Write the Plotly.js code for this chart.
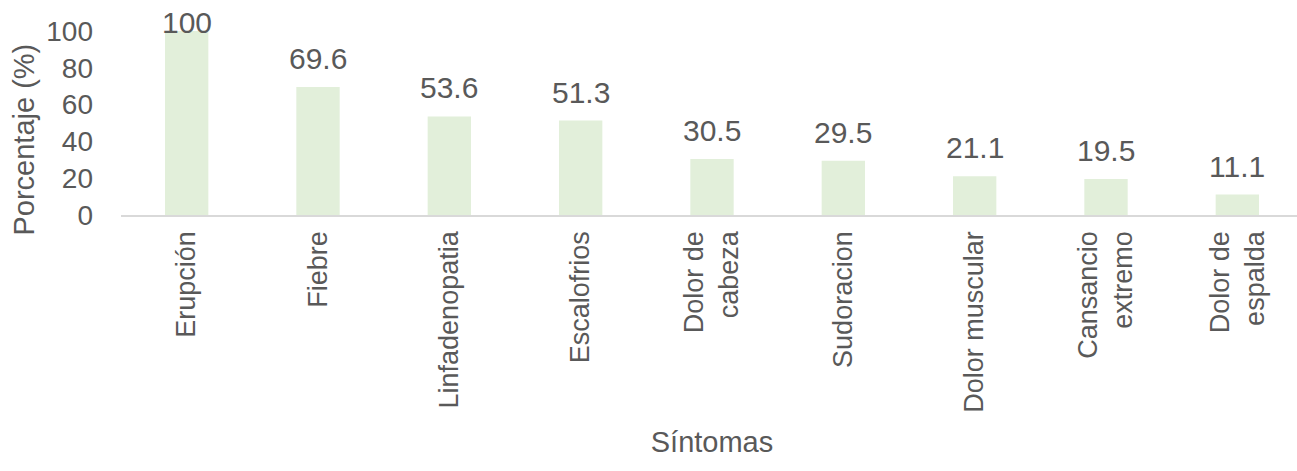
<!DOCTYPE html>
<html>
<head>
<meta charset="utf-8">
<script src="https://cdn.plot.ly/plotly-3.0.1.min.js"></script>
<style>
html,body{margin:0;padding:0;overflow:hidden;background:#fff;}
#chart{width:1303px;height:471px;}
</style>
</head>
<body>
<div id="chart"></div>
<script>
const categories = ["Erupción","Fiebre","Linfadenopatia","Escalofrios","Dolor de<br>cabeza","Sudoracion","Dolor muscular","Cansancio<br>extremo","Dolor de<br>espalda"];
const values = [100, 69.6, 53.6, 51.3, 30.5, 29.5, 21.1, 19.5, 11.1];
const valueLabels = ["100","69.6","53.6","51.3","30.5","29.5","21.1","19.5","11.1"];
const yTicks = [0,20,40,60,80,100];
const xTitle = 'Síntomas';
const yTitle = 'Porcentaje (%)';

const FONT = '"Liberation Sans", Arial, sans-serif';
const TXT = '#595959';

const trace = {
  type: 'bar',
  x: categories,
  y: values,
  marker: {color: '#E2EFDA'},
  hoverinfo: 'none'
};

const annotations = categories.map((c, i) => ({
  x: c, y: values[i], xref: 'x', yref: 'y',
  text: valueLabels[i], showarrow: false,
  yanchor: 'bottom', xanchor: 'center',
  yshift: Math.min(10, (100 - values[i]) * 1.84 - 10),
  font: {family: FONT, size: 30, color: TXT}
}));

annotations.push({
  xref: 'paper', yref: 'paper', x: 0, y: 0.41,
  xanchor: 'center', yanchor: 'middle', xshift: -97,
  text: yTitle, textangle: -90, showarrow: false,
  font: {family: FONT, size: 29, color: TXT}
});

const layout = {
  width: 1303, height: 471,
  margin: {l: 121, r: 0, t: 31, b: 256},
  paper_bgcolor: '#fff', plot_bgcolor: '#fff',
  bargap: 0.67,
  showlegend: false,
  font: {family: FONT, size: 27, color: TXT},
  xaxis: {
    type: 'category',
    tickangle: -90,
    showline: true, linecolor: '#D9D9D9', linewidth: 1.5,
    showgrid: false, zeroline: false,
    ticks: '', ticklabelstandoff: 4,
    tickfont: {family: FONT, size: 27, color: TXT},
    title: {text: xTitle, font: {family: FONT, size: 29, color: TXT}, standoff: 20},
    automargin: false
  },
  yaxis: {
    range: [0, 100],
    tickvals: yTicks,
    ticktext: yTicks.map(String),
    showline: false, showgrid: false, zeroline: false,
    ticks: '', ticklabelstandoff: 27,
    tickfont: {family: FONT, size: 28, color: TXT},
    automargin: false
  },
  annotations: annotations
};

Plotly.newPlot('chart', [trace], layout, {displayModeBar: false, staticPlot: true});
</script>
</body>
</html>
